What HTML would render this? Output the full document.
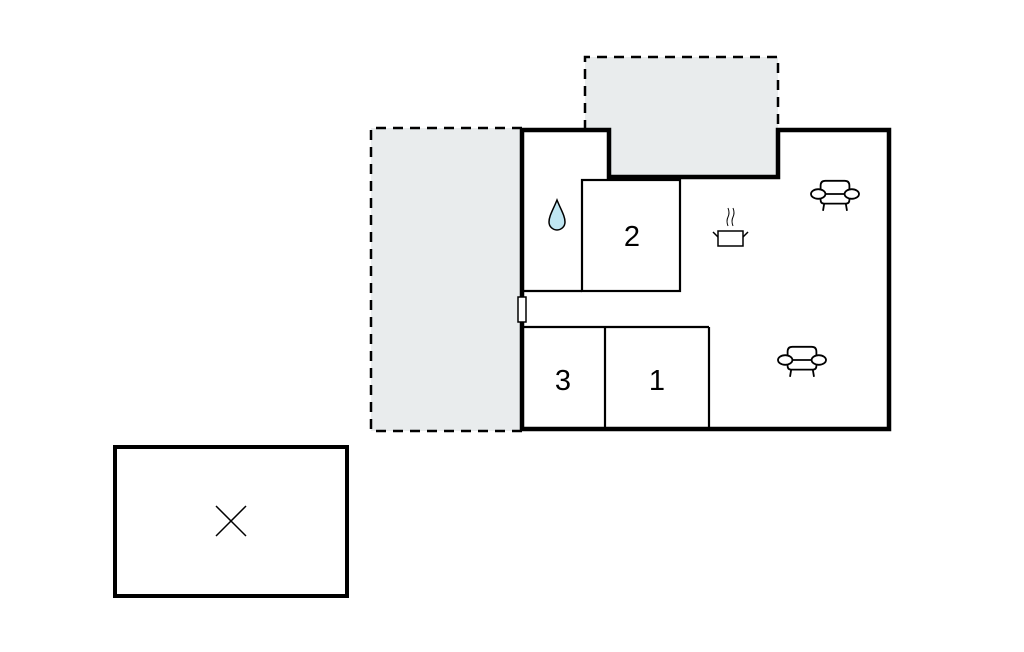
<!DOCTYPE html>
<html><head><style>body{margin:0;background:#fff}svg{display:block}</style></head><body>
<svg width="1024" height="652" viewBox="0 0 1024 652" xmlns="http://www.w3.org/2000/svg">
<defs>
<g id="sofa" fill="#fff" stroke="#000" stroke-width="1.5">
<path d="M-12,-7 q0,-4 4,-4 h16 q4,0 4,4 v12 q0,3 -3,3 h-18 q-3,0 -3,-3z"/>
<line x1="-12" y1="0" x2="12" y2="0"/>
<ellipse cx="-14" cy="0" rx="6" ry="4"/>
<ellipse cx="14" cy="0" rx="6" ry="4"/>
<line x1="-9" y1="8" x2="-10" y2="14"/>
<line x1="9" y1="8" x2="10" y2="14"/>
</g>
</defs>
<rect x="371" y="128" width="151" height="303" fill="#e9eced"/>
<path d="M522,128 H371 V431 H522" fill="none" stroke="#000" stroke-width="2.5" stroke-dasharray="10,7"/>
<rect x="585" y="57" width="193" height="73" fill="#e9eced"/>
<rect x="609" y="128" width="169" height="49" fill="#e9eced"/>
<path d="M585,130 V57 H778 V130" fill="none" stroke="#000" stroke-width="2.5" stroke-dasharray="10,7"/>
<path d="M522,130 H609 V177 H778 V130 H889 V429 H522 Z" fill="none" stroke="#000" stroke-width="4.5"/>
<g fill="none" stroke="#000" stroke-width="2.2">
<rect x="582" y="180" width="98" height="111"/>
<line x1="522" y1="291" x2="582" y2="291"/>
<line x1="522" y1="327" x2="709" y2="327"/>
<line x1="709" y1="327" x2="709" y2="429"/>
<line x1="605" y1="327" x2="605" y2="429"/>
</g>
<rect x="518" y="297" width="8" height="25" fill="#fff" stroke="#000" stroke-width="1.5"/>
<rect x="115" y="447" width="232" height="149" fill="none" stroke="#000" stroke-width="4"/>
<g stroke="#000" stroke-width="1.5"><line x1="216" y1="506" x2="246" y2="536"/><line x1="246" y1="506" x2="216" y2="536"/></g>
<path d="M557,200 C553,210 549,216 549,222 A8,8 0 0 0 565,222 C565,216 561,210 557,200Z" fill="#bfe6f2" stroke="#000" stroke-width="1.5"/>
<g fill="#fff" stroke="#000" stroke-width="1.5">
<rect x="718" y="231" width="25" height="15"/>
<line x1="713" y1="232" x2="718" y2="237"/><line x1="748" y1="232" x2="743" y2="237"/>
<path d="M728,226 q-2,-5 0,-9 q2,-4 0,-9" fill="none" stroke-width="1"/>
<path d="M733,226 q-2,-5 0,-9 q2,-4 0,-9" fill="none" stroke-width="1"/>
</g>
<use href="#sofa" transform="translate(835,194) scale(1.2)"/>
<use href="#sofa" transform="translate(802,360) scale(1.2)"/>
<g font-family="Liberation Sans, sans-serif" font-size="29" text-anchor="middle">
<text x="632" y="246">2</text>
<text x="563" y="390">3</text>
<text x="657" y="390">1</text>
</g>
</svg>
</body></html>
